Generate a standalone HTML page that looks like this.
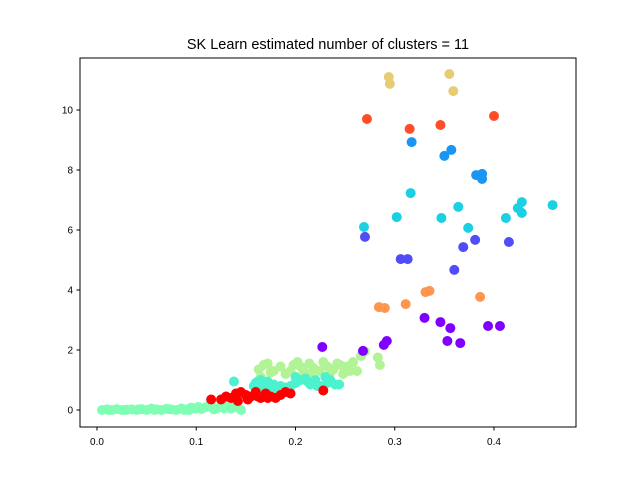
<!DOCTYPE html>
<html><head><meta charset="utf-8"><style>body{margin:0;background:#fff}svg{display:block;font-family:"Liberation Sans","DejaVu Sans",sans-serif}</style></head>
<body>
<svg id="chart" width="640" height="480">
<rect width="640" height="480" fill="#fff"/>
<text x="328" y="49" text-anchor="middle" font-size="14.5" fill="#000">SK Learn estimated number of clusters = 11</text>
<g id="marks"></g>
<rect x="80" y="58" width="496" height="369" fill="none" stroke="#000" stroke-width="1"/>
<g id="axes"></g>
</svg>
<script>
const xTicks=[0.0,0.1,0.2,0.3,0.4];
const xTickLabels=["0.0","0.1","0.2","0.3","0.4"];
const yTicks=[0,2,4,6,8,10];
const yTickLabels=["0","2","4","6","8","10"];
const clusterNames=["purple","indigo","blue","cyan","aqua","mint","light-green","yellow","orange","red-orange","red"];
const clusterColors=["#8000ff","#4f4cf8","#1996f3","#1ad0e2","#4cf2ce","#80ffb4","#b2f396","#e6cd74","#ff964f","#ff4d27","#ff0000"];
const c0x=[0.227,0.268,0.289,0.292,0.330,0.346,0.356,0.353,0.366,0.394,0.406];
const c0y=[2.1,1.97,2.17,2.3,3.07,2.93,2.73,2.3,2.23,2.8,2.8];
const c1x=[0.270,0.306,0.313,0.369,0.381,0.415,0.360];
const c1y=[5.77,5.03,5.03,5.43,5.67,5.6,4.67];
const c2x=[0.317,0.350,0.357,0.382,0.388,0.388];
const c2y=[8.93,8.47,8.67,7.83,7.87,7.7];
const c3x=[0.316,0.269,0.302,0.347,0.364,0.374,0.412,0.424,0.428,0.428,0.459];
const c3y=[7.23,6.1,6.43,6.4,6.77,6.07,6.4,6.73,6.93,6.57,6.83];
const c4x=[0.138,0.158,0.162,0.165,0.168,0.172,0.175,0.178,0.16,0.17,0.18,0.185,0.195,0.20,0.205,0.21,0.215,0.22,0.225,0.23,0.235,0.24,0.165,0.175,0.19,0.2,0.212,0.222,0.232,0.244];
const c4y=[0.95,0.8,0.95,1.0,0.75,0.95,0.8,0.85,0.9,0.7,0.7,0.8,0.8,0.9,1.0,1.05,0.85,1.0,0.8,1.1,1.0,0.85,0.7,0.75,0.75,1.1,0.95,0.8,0.9,0.85];
const c5x=[0.005,0.01,0.015,0.02,0.025,0.03,0.035,0.04,0.045,0.05,0.055,0.06,0.065,0.07,0.075,0.08,0.085,0.09,0.095,0.10,0.105,0.11,0.115,0.12,0.125,0.13,0.135,0.14,0.145,0.012,0.028,0.042,0.058,0.072,0.088,0.102,0.118,0.128,0.138,0.093];
const c5y=[0.0,0.02,0.0,0.03,0.0,0.01,0.02,0.0,0.03,0.0,0.05,0.02,0.0,0.04,0.02,0.0,0.05,0.02,0.08,0.05,0.03,0.1,0.15,0.05,0.1,0.2,0.05,0.1,0.0,0.0,0.0,0.02,0.0,0.03,0.0,0.1,0.02,0.05,0.15,0.0];
const c6x=[0.163,0.168,0.172,0.178,0.185,0.19,0.198,0.202,0.208,0.214,0.218,0.224,0.228,0.232,0.238,0.242,0.248,0.252,0.258,0.262,0.266,0.27,0.283,0.285,0.175,0.195,0.215,0.235,0.255,0.165,0.205,0.245];
const c6y=[1.35,1.5,1.55,1.3,1.45,1.2,1.5,1.6,1.3,1.55,1.4,1.3,1.6,1.45,1.35,1.55,1.2,1.45,1.6,1.3,1.8,1.95,1.75,1.5,1.25,1.3,1.2,1.25,1.3,1.1,1.45,1.5];
const c7x=[0.294,0.295,0.355,0.359];
const c7y=[11.1,10.87,11.2,10.63];
const c8x=[0.284,0.290,0.311,0.331,0.335,0.386];
const c8y=[3.43,3.4,3.53,3.93,3.97,3.77];
const c9x=[0.272,0.315,0.346,0.400];
const c9y=[9.7,9.37,9.5,9.8];
const c10x=[0.115,0.125,0.135,0.14,0.145,0.15,0.155,0.16,0.165,0.17,0.175,0.18,0.185,0.19,0.195,0.142,0.152,0.162,0.172,0.13,0.228];
const c10y=[0.35,0.35,0.4,0.55,0.6,0.5,0.45,0.6,0.4,0.55,0.45,0.4,0.5,0.6,0.55,0.3,0.35,0.45,0.4,0.45,0.65];
const clusterX=[c0x,c1x,c2x,c3x,c4x,c5x,c6x,c7x,c8x,c9x,c10x];
const clusterY=[c0y,c1y,c2y,c3y,c4y,c5y,c6y,c7y,c8y,c9y,c10y];
const drawOrder=[5,6,4,10,0,1,2,3,7,8,9];

const X0=80,X1=576,Y0=427,Y1=58,xmin=-0.0171,xmax=0.4826,ymin=-0.567,ymax=11.733;
function sx(v){return X0+(v-xmin)/(xmax-xmin)*(X1-X0);}
function sy(v){return Y0-(v-ymin)/(ymax-ymin)*(Y0-Y1);}
const NS="http://www.w3.org/2000/svg";
const marks=document.getElementById('marks');
drawOrder.forEach(function(ci){
  const g=document.createElementNS(NS,'g');
  
  
  clusterX[ci].forEach(function(xv,i){
    const c=document.createElementNS(NS,'circle');
    c.setAttribute('cx',sx(xv));c.setAttribute('cy',sy(clusterY[ci][i]));
    c.setAttribute('r',5);c.setAttribute('fill',clusterColors[ci]);
    
    
    g.appendChild(c);
  });
  marks.appendChild(g);
});
const axes=document.getElementById('axes');
xTicks.forEach(function(v,i){
  const x=sx(v);
  const l=document.createElementNS(NS,'line');
  l.setAttribute('x1',x);l.setAttribute('x2',x);l.setAttribute('y1',427);l.setAttribute('y2',430.5);l.setAttribute('stroke','#000');
  
  
  axes.appendChild(l);
  const t=document.createElementNS(NS,'text');
  t.setAttribute('x',x);t.setAttribute('y',445);t.setAttribute('text-anchor','middle');t.setAttribute('font-size','10');
  t.textContent=xTickLabels[i];
  
  
  axes.appendChild(t);
});
yTicks.forEach(function(v,i){
  const y=sy(v);
  const l=document.createElementNS(NS,'line');
  l.setAttribute('x1',76.5);l.setAttribute('x2',80);l.setAttribute('y1',y);l.setAttribute('y2',y);l.setAttribute('stroke','#000');
  
  
  axes.appendChild(l);
  const t=document.createElementNS(NS,'text');
  t.setAttribute('x',73);t.setAttribute('y',y+3.5);t.setAttribute('text-anchor','end');t.setAttribute('font-size','10');
  t.textContent=yTickLabels[i];
  
  
  axes.appendChild(t);
});
</script>
</body></html>
